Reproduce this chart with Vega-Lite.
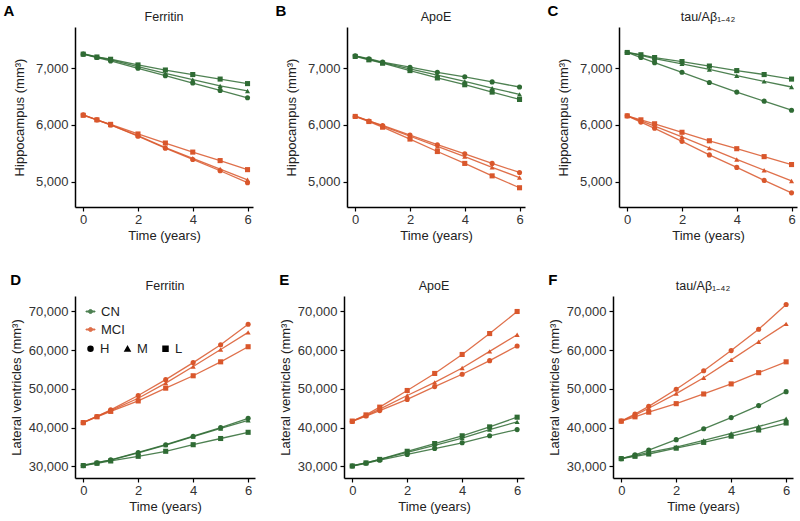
{
"$schema": "https://vega.github.io/schema/vega-lite/v6.json",
"padding": {"left": 3, "top": 3, "right": 3, "bottom": 3},
"background": "white",
"config": {
  "font": "Liberation Sans",
  "view": {"stroke": null},
  "axis": {"grid": false, "domainColor": "black", "domainWidth": 1.5, "tickColor": "black", "tickSize": 4, "tickWidth": 1.2, "labelColor": "#333", "labelFontSize": 13, "titleFontSize": 13, "titleFontWeight": "normal", "titleColor": "#222"},
  "axisX": {"labelPadding": 2, "titlePadding": 3},
  "axisY": {"labelPadding": 3},
  "legend": {"layout": {"top-left": {"direction": "vertical", "margin": 5}}}
},
"datasets": {"d": [
{"p":"A","g":"CN","l":"H","t":0,"v":7250},{"p":"A","g":"CN","l":"H","t":0.5,"v":7190},{"p":"A","g":"CN","l":"H","t":1,"v":7130},{"p":"A","g":"CN","l":"H","t":2,"v":7000},{"p":"A","g":"CN","l":"H","t":3,"v":6870},{"p":"A","g":"CN","l":"H","t":4,"v":6740},{"p":"A","g":"CN","l":"H","t":5,"v":6610},{"p":"A","g":"CN","l":"H","t":6,"v":6480},
{"p":"A","g":"CN","l":"M","t":0,"v":7260},{"p":"A","g":"CN","l":"M","t":0.5,"v":7200},{"p":"A","g":"CN","l":"M","t":1,"v":7150},{"p":"A","g":"CN","l":"M","t":2,"v":7030},{"p":"A","g":"CN","l":"M","t":3,"v":6910},{"p":"A","g":"CN","l":"M","t":4,"v":6800},{"p":"A","g":"CN","l":"M","t":5,"v":6690},{"p":"A","g":"CN","l":"M","t":6,"v":6600},
{"p":"A","g":"CN","l":"L","t":0,"v":7250},{"p":"A","g":"CN","l":"L","t":0.5,"v":7200},{"p":"A","g":"CN","l":"L","t":1,"v":7160},{"p":"A","g":"CN","l":"L","t":2,"v":7060},{"p":"A","g":"CN","l":"L","t":3,"v":6970},{"p":"A","g":"CN","l":"L","t":4,"v":6890},{"p":"A","g":"CN","l":"L","t":5,"v":6810},{"p":"A","g":"CN","l":"L","t":6,"v":6730},
{"p":"A","g":"MCI","l":"H","t":0,"v":6180},{"p":"A","g":"MCI","l":"H","t":0.5,"v":6090},{"p":"A","g":"MCI","l":"H","t":1,"v":6000},{"p":"A","g":"MCI","l":"H","t":2,"v":5800},{"p":"A","g":"MCI","l":"H","t":3,"v":5590},{"p":"A","g":"MCI","l":"H","t":4,"v":5390},{"p":"A","g":"MCI","l":"H","t":5,"v":5190},{"p":"A","g":"MCI","l":"H","t":6,"v":4980},
{"p":"A","g":"MCI","l":"M","t":0,"v":6180},{"p":"A","g":"MCI","l":"M","t":0.5,"v":6090},{"p":"A","g":"MCI","l":"M","t":1,"v":6000},{"p":"A","g":"MCI","l":"M","t":2,"v":5810},{"p":"A","g":"MCI","l":"M","t":3,"v":5600},{"p":"A","g":"MCI","l":"M","t":4,"v":5410},{"p":"A","g":"MCI","l":"M","t":5,"v":5220},{"p":"A","g":"MCI","l":"M","t":6,"v":5030},
{"p":"A","g":"MCI","l":"L","t":0,"v":6170},{"p":"A","g":"MCI","l":"L","t":0.5,"v":6090},{"p":"A","g":"MCI","l":"L","t":1,"v":6010},{"p":"A","g":"MCI","l":"L","t":2,"v":5840},{"p":"A","g":"MCI","l":"L","t":3,"v":5680},{"p":"A","g":"MCI","l":"L","t":4,"v":5520},{"p":"A","g":"MCI","l":"L","t":5,"v":5370},{"p":"A","g":"MCI","l":"L","t":6,"v":5210},
{"p":"B","g":"CN","l":"H","t":0,"v":7220},{"p":"B","g":"CN","l":"H","t":0.5,"v":7170},{"p":"B","g":"CN","l":"H","t":1,"v":7110},{"p":"B","g":"CN","l":"H","t":2,"v":7020},{"p":"B","g":"CN","l":"H","t":3,"v":6930},{"p":"B","g":"CN","l":"H","t":4,"v":6850},{"p":"B","g":"CN","l":"H","t":5,"v":6760},{"p":"B","g":"CN","l":"H","t":6,"v":6670},
{"p":"B","g":"CN","l":"M","t":0,"v":7220},{"p":"B","g":"CN","l":"M","t":0.5,"v":7160},{"p":"B","g":"CN","l":"M","t":1,"v":7100},{"p":"B","g":"CN","l":"M","t":2,"v":6990},{"p":"B","g":"CN","l":"M","t":3,"v":6880},{"p":"B","g":"CN","l":"M","t":4,"v":6770},{"p":"B","g":"CN","l":"M","t":5,"v":6650},{"p":"B","g":"CN","l":"M","t":6,"v":6540},
{"p":"B","g":"CN","l":"L","t":0,"v":7210},{"p":"B","g":"CN","l":"L","t":0.5,"v":7150},{"p":"B","g":"CN","l":"L","t":1,"v":7090},{"p":"B","g":"CN","l":"L","t":2,"v":6960},{"p":"B","g":"CN","l":"L","t":3,"v":6830},{"p":"B","g":"CN","l":"L","t":4,"v":6710},{"p":"B","g":"CN","l":"L","t":5,"v":6580},{"p":"B","g":"CN","l":"L","t":6,"v":6450},
{"p":"B","g":"MCI","l":"H","t":0,"v":6150},{"p":"B","g":"MCI","l":"H","t":0.5,"v":6070},{"p":"B","g":"MCI","l":"H","t":1,"v":5990},{"p":"B","g":"MCI","l":"H","t":2,"v":5820},{"p":"B","g":"MCI","l":"H","t":3,"v":5650},{"p":"B","g":"MCI","l":"H","t":4,"v":5490},{"p":"B","g":"MCI","l":"H","t":5,"v":5320},{"p":"B","g":"MCI","l":"H","t":6,"v":5160},
{"p":"B","g":"MCI","l":"M","t":0,"v":6160},{"p":"B","g":"MCI","l":"M","t":0.5,"v":6070},{"p":"B","g":"MCI","l":"M","t":1,"v":5980},{"p":"B","g":"MCI","l":"M","t":2,"v":5800},{"p":"B","g":"MCI","l":"M","t":3,"v":5620},{"p":"B","g":"MCI","l":"M","t":4,"v":5440},{"p":"B","g":"MCI","l":"M","t":5,"v":5250},{"p":"B","g":"MCI","l":"M","t":6,"v":5070},
{"p":"B","g":"MCI","l":"L","t":0,"v":6150},{"p":"B","g":"MCI","l":"L","t":0.5,"v":6060},{"p":"B","g":"MCI","l":"L","t":1,"v":5960},{"p":"B","g":"MCI","l":"L","t":2,"v":5750},{"p":"B","g":"MCI","l":"L","t":3,"v":5530},{"p":"B","g":"MCI","l":"L","t":4,"v":5320},{"p":"B","g":"MCI","l":"L","t":5,"v":5100},{"p":"B","g":"MCI","l":"L","t":6,"v":4890},
{"p":"C","g":"CN","l":"H","t":0,"v":7280},{"p":"C","g":"CN","l":"H","t":0.5,"v":7190},{"p":"C","g":"CN","l":"H","t":1,"v":7100},{"p":"C","g":"CN","l":"H","t":2,"v":6930},{"p":"C","g":"CN","l":"H","t":3,"v":6750},{"p":"C","g":"CN","l":"H","t":4,"v":6580},{"p":"C","g":"CN","l":"H","t":5,"v":6420},{"p":"C","g":"CN","l":"H","t":6,"v":6260},
{"p":"C","g":"CN","l":"M","t":0,"v":7280},{"p":"C","g":"CN","l":"M","t":0.5,"v":7230},{"p":"C","g":"CN","l":"M","t":1,"v":7170},{"p":"C","g":"CN","l":"M","t":2,"v":7080},{"p":"C","g":"CN","l":"M","t":3,"v":6980},{"p":"C","g":"CN","l":"M","t":4,"v":6870},{"p":"C","g":"CN","l":"M","t":5,"v":6770},{"p":"C","g":"CN","l":"M","t":6,"v":6670},
{"p":"C","g":"CN","l":"L","t":0,"v":7280},{"p":"C","g":"CN","l":"L","t":0.5,"v":7240},{"p":"C","g":"CN","l":"L","t":1,"v":7190},{"p":"C","g":"CN","l":"L","t":2,"v":7120},{"p":"C","g":"CN","l":"L","t":3,"v":7040},{"p":"C","g":"CN","l":"L","t":4,"v":6960},{"p":"C","g":"CN","l":"L","t":5,"v":6890},{"p":"C","g":"CN","l":"L","t":6,"v":6810},
{"p":"C","g":"MCI","l":"H","t":0,"v":6160},{"p":"C","g":"MCI","l":"H","t":0.5,"v":6050},{"p":"C","g":"MCI","l":"H","t":1,"v":5940},{"p":"C","g":"MCI","l":"H","t":2,"v":5710},{"p":"C","g":"MCI","l":"H","t":3,"v":5470},{"p":"C","g":"MCI","l":"H","t":4,"v":5250},{"p":"C","g":"MCI","l":"H","t":5,"v":5020},{"p":"C","g":"MCI","l":"H","t":6,"v":4800},
{"p":"C","g":"MCI","l":"M","t":0,"v":6160},{"p":"C","g":"MCI","l":"M","t":0.5,"v":6070},{"p":"C","g":"MCI","l":"M","t":1,"v":5980},{"p":"C","g":"MCI","l":"M","t":2,"v":5790},{"p":"C","g":"MCI","l":"M","t":3,"v":5590},{"p":"C","g":"MCI","l":"M","t":4,"v":5390},{"p":"C","g":"MCI","l":"M","t":5,"v":5200},{"p":"C","g":"MCI","l":"M","t":6,"v":5010},
{"p":"C","g":"MCI","l":"L","t":0,"v":6160},{"p":"C","g":"MCI","l":"L","t":0.5,"v":6090},{"p":"C","g":"MCI","l":"L","t":1,"v":6020},{"p":"C","g":"MCI","l":"L","t":2,"v":5870},{"p":"C","g":"MCI","l":"L","t":3,"v":5720},{"p":"C","g":"MCI","l":"L","t":4,"v":5580},{"p":"C","g":"MCI","l":"L","t":5,"v":5440},{"p":"C","g":"MCI","l":"L","t":6,"v":5300},
{"p":"D","g":"CN","l":"H","t":0,"v":30200},{"p":"D","g":"CN","l":"H","t":0.5,"v":30900},{"p":"D","g":"CN","l":"H","t":1,"v":31700},{"p":"D","g":"CN","l":"H","t":2,"v":33600},{"p":"D","g":"CN","l":"H","t":3,"v":35600},{"p":"D","g":"CN","l":"H","t":4,"v":37800},{"p":"D","g":"CN","l":"H","t":5,"v":40000},{"p":"D","g":"CN","l":"H","t":6,"v":42400},
{"p":"D","g":"CN","l":"M","t":0,"v":30300},{"p":"D","g":"CN","l":"M","t":0.5,"v":31000},{"p":"D","g":"CN","l":"M","t":1,"v":31600},{"p":"D","g":"CN","l":"M","t":2,"v":33500},{"p":"D","g":"CN","l":"M","t":3,"v":35500},{"p":"D","g":"CN","l":"M","t":4,"v":37700},{"p":"D","g":"CN","l":"M","t":5,"v":39800},{"p":"D","g":"CN","l":"M","t":6,"v":41900},
{"p":"D","g":"CN","l":"L","t":0,"v":30200},{"p":"D","g":"CN","l":"L","t":0.5,"v":30800},{"p":"D","g":"CN","l":"L","t":1,"v":31400},{"p":"D","g":"CN","l":"L","t":2,"v":32600},{"p":"D","g":"CN","l":"L","t":3,"v":33900},{"p":"D","g":"CN","l":"L","t":4,"v":35600},{"p":"D","g":"CN","l":"L","t":5,"v":37200},{"p":"D","g":"CN","l":"L","t":6,"v":38800},
{"p":"D","g":"MCI","l":"H","t":0,"v":41300},{"p":"D","g":"MCI","l":"H","t":0.5,"v":42900},{"p":"D","g":"MCI","l":"H","t":1,"v":44600},{"p":"D","g":"MCI","l":"H","t":2,"v":48300},{"p":"D","g":"MCI","l":"H","t":3,"v":52400},{"p":"D","g":"MCI","l":"H","t":4,"v":56800},{"p":"D","g":"MCI","l":"H","t":5,"v":61400},{"p":"D","g":"MCI","l":"H","t":6,"v":66700},
{"p":"D","g":"MCI","l":"M","t":0,"v":41400},{"p":"D","g":"MCI","l":"M","t":0.5,"v":42900},{"p":"D","g":"MCI","l":"M","t":1,"v":44400},{"p":"D","g":"MCI","l":"M","t":2,"v":47600},{"p":"D","g":"MCI","l":"M","t":3,"v":51500},{"p":"D","g":"MCI","l":"M","t":4,"v":55800},{"p":"D","g":"MCI","l":"M","t":5,"v":60200},{"p":"D","g":"MCI","l":"M","t":6,"v":64600},
{"p":"D","g":"MCI","l":"L","t":0,"v":41300},{"p":"D","g":"MCI","l":"L","t":0.5,"v":42800},{"p":"D","g":"MCI","l":"L","t":1,"v":44200},{"p":"D","g":"MCI","l":"L","t":2,"v":46900},{"p":"D","g":"MCI","l":"L","t":3,"v":50200},{"p":"D","g":"MCI","l":"L","t":4,"v":53400},{"p":"D","g":"MCI","l":"L","t":5,"v":57000},{"p":"D","g":"MCI","l":"L","t":6,"v":60900},
{"p":"E","g":"CN","l":"H","t":0,"v":30100},{"p":"E","g":"CN","l":"H","t":0.5,"v":30800},{"p":"E","g":"CN","l":"H","t":1,"v":31600},{"p":"E","g":"CN","l":"H","t":2,"v":33100},{"p":"E","g":"CN","l":"H","t":3,"v":34600},{"p":"E","g":"CN","l":"H","t":4,"v":36100},{"p":"E","g":"CN","l":"H","t":5,"v":37900},{"p":"E","g":"CN","l":"H","t":6,"v":39500},
{"p":"E","g":"CN","l":"M","t":0,"v":30200},{"p":"E","g":"CN","l":"M","t":0.5,"v":30900},{"p":"E","g":"CN","l":"M","t":1,"v":31800},{"p":"E","g":"CN","l":"M","t":2,"v":33600},{"p":"E","g":"CN","l":"M","t":3,"v":35400},{"p":"E","g":"CN","l":"M","t":4,"v":37300},{"p":"E","g":"CN","l":"M","t":5,"v":39500},{"p":"E","g":"CN","l":"M","t":6,"v":41500},
{"p":"E","g":"CN","l":"L","t":0,"v":30100},{"p":"E","g":"CN","l":"L","t":0.5,"v":30900},{"p":"E","g":"CN","l":"L","t":1,"v":31800},{"p":"E","g":"CN","l":"L","t":2,"v":33900},{"p":"E","g":"CN","l":"L","t":3,"v":35900},{"p":"E","g":"CN","l":"L","t":4,"v":37900},{"p":"E","g":"CN","l":"L","t":5,"v":40200},{"p":"E","g":"CN","l":"L","t":6,"v":42700},
{"p":"E","g":"MCI","l":"H","t":0,"v":41600},{"p":"E","g":"MCI","l":"H","t":0.5,"v":43000},{"p":"E","g":"MCI","l":"H","t":1,"v":44400},{"p":"E","g":"MCI","l":"H","t":2,"v":47300},{"p":"E","g":"MCI","l":"H","t":3,"v":50600},{"p":"E","g":"MCI","l":"H","t":4,"v":53800},{"p":"E","g":"MCI","l":"H","t":5,"v":57300},{"p":"E","g":"MCI","l":"H","t":6,"v":61100},
{"p":"E","g":"MCI","l":"M","t":0,"v":41700},{"p":"E","g":"MCI","l":"M","t":0.5,"v":43100},{"p":"E","g":"MCI","l":"M","t":1,"v":44800},{"p":"E","g":"MCI","l":"M","t":2,"v":48300},{"p":"E","g":"MCI","l":"M","t":3,"v":51700},{"p":"E","g":"MCI","l":"M","t":4,"v":55400},{"p":"E","g":"MCI","l":"M","t":5,"v":59700},{"p":"E","g":"MCI","l":"M","t":6,"v":64000},
{"p":"E","g":"MCI","l":"L","t":0,"v":41700},{"p":"E","g":"MCI","l":"L","t":0.5,"v":43300},{"p":"E","g":"MCI","l":"L","t":1,"v":45300},{"p":"E","g":"MCI","l":"L","t":2,"v":49600},{"p":"E","g":"MCI","l":"L","t":3,"v":54000},{"p":"E","g":"MCI","l":"L","t":4,"v":58900},{"p":"E","g":"MCI","l":"L","t":5,"v":64300},{"p":"E","g":"MCI","l":"L","t":6,"v":70000},
{"p":"F","g":"CN","l":"H","t":0,"v":32000},{"p":"F","g":"CN","l":"H","t":0.5,"v":33000},{"p":"F","g":"CN","l":"H","t":1,"v":34200},{"p":"F","g":"CN","l":"H","t":2,"v":36900},{"p":"F","g":"CN","l":"H","t":3,"v":39700},{"p":"F","g":"CN","l":"H","t":4,"v":42600},{"p":"F","g":"CN","l":"H","t":5,"v":45700},{"p":"F","g":"CN","l":"H","t":6,"v":49300},
{"p":"F","g":"CN","l":"M","t":0,"v":32000},{"p":"F","g":"CN","l":"M","t":0.5,"v":32800},{"p":"F","g":"CN","l":"M","t":1,"v":33600},{"p":"F","g":"CN","l":"M","t":2,"v":35000},{"p":"F","g":"CN","l":"M","t":3,"v":36700},{"p":"F","g":"CN","l":"M","t":4,"v":38500},{"p":"F","g":"CN","l":"M","t":5,"v":40300},{"p":"F","g":"CN","l":"M","t":6,"v":42300},
{"p":"F","g":"CN","l":"L","t":0,"v":32000},{"p":"F","g":"CN","l":"L","t":0.5,"v":32600},{"p":"F","g":"CN","l":"L","t":1,"v":33200},{"p":"F","g":"CN","l":"L","t":2,"v":34700},{"p":"F","g":"CN","l":"L","t":3,"v":36200},{"p":"F","g":"CN","l":"L","t":4,"v":37800},{"p":"F","g":"CN","l":"L","t":5,"v":39400},{"p":"F","g":"CN","l":"L","t":6,"v":41200},
{"p":"F","g":"MCI","l":"H","t":0,"v":41700},{"p":"F","g":"MCI","l":"H","t":0.5,"v":43500},{"p":"F","g":"MCI","l":"H","t":1,"v":45500},{"p":"F","g":"MCI","l":"H","t":2,"v":49900},{"p":"F","g":"MCI","l":"H","t":3,"v":54700},{"p":"F","g":"MCI","l":"H","t":4,"v":59900},{"p":"F","g":"MCI","l":"H","t":5,"v":65400},{"p":"F","g":"MCI","l":"H","t":6,"v":71800},
{"p":"F","g":"MCI","l":"M","t":0,"v":41700},{"p":"F","g":"MCI","l":"M","t":0.5,"v":43200},{"p":"F","g":"MCI","l":"M","t":1,"v":45000},{"p":"F","g":"MCI","l":"M","t":2,"v":48800},{"p":"F","g":"MCI","l":"M","t":3,"v":52900},{"p":"F","g":"MCI","l":"M","t":4,"v":57500},{"p":"F","g":"MCI","l":"M","t":5,"v":62200},{"p":"F","g":"MCI","l":"M","t":6,"v":66800},
{"p":"F","g":"MCI","l":"L","t":0,"v":41700},{"p":"F","g":"MCI","l":"L","t":0.5,"v":42800},{"p":"F","g":"MCI","l":"L","t":1,"v":44000},{"p":"F","g":"MCI","l":"L","t":2,"v":46200},{"p":"F","g":"MCI","l":"L","t":3,"v":48700},{"p":"F","g":"MCI","l":"L","t":4,"v":51300},{"p":"F","g":"MCI","l":"L","t":5,"v":54200},{"p":"F","g":"MCI","l":"L","t":6,"v":57000}
]},
"resolve": {"scale": {"color": "independent", "shape": "independent"}, "legend": {"color": "independent", "shape": "independent"}},
"spacing": 30,
"vconcat": [
 {"spacing": 22,
  "resolve": {"scale": {"color": "independent", "shape": "independent"}, "legend": {"color": "independent", "shape": "independent"}},
  "hconcat": [
   {"title": {"text": "A", "anchor": "start", "fontSize": 15, "fontWeight": "bold", "color": "black", "offset": -8, "dx": -10},
    "resolve": {"scale": {"color": "independent", "shape": "independent"}, "legend": {"color": "independent", "shape": "independent"}},
    "hconcat": [{
     "width": 178, "height": 180, "data": {"name": "d"},
     "transform": [{"filter": "datum.p === 'A'"}],
     "title": {"text": "Ferritin", "fontSize": 12.5, "fontWeight": "normal", "color": "#222", "offset": 4, "anchor": "middle"},
     "encoding": {
      "x": {"field": "t", "type": "quantitative", "scale": {"domain": [-0.3, 6.2], "nice": false, "zero": false}, "axis": {"values": [0, 2, 4, 6], "title": "Time (years)"}},
      "y": {"field": "v", "type": "quantitative", "scale": {"domain": [4550, 7730], "nice": false, "zero": false}, "axis": {"values": [5000, 6000, 7000], "format": ",d", "title": "Hippocampus (mm³)", "titlePadding": 9}},
      "color": {"field": "g", "type": "nominal", "scale": {"domain": ["CN", "MCI"], "range": ["#2f6b34", "#d9572c"]}, "legend": null},
      "detail": {"field": "l", "type": "nominal"}
     },
     "layer": [
      {"mark": {"type": "line", "strokeWidth": 1.3, "opacity": 0.85}},
      {"mark": {"type": "point", "filled": true, "size": 26, "opacity": 1, "color": "black"}, "encoding": {"shape": {"field": "l", "type": "nominal", "scale": {"domain": ["H", "M", "L"], "range": ["circle", "triangle-up", "square"]}, "legend": null}}}
     ]
    }]
   },
   {"title": {"text": "B", "anchor": "start", "fontSize": 15, "fontWeight": "bold", "color": "black", "offset": -8, "dx": -10},
    "resolve": {"scale": {"color": "independent", "shape": "independent"}, "legend": {"color": "independent", "shape": "independent"}},
    "hconcat": [{
     "width": 178, "height": 180, "data": {"name": "d"},
     "transform": [{"filter": "datum.p === 'B'"}],
     "title": {"text": "ApoE", "fontSize": 12.5, "fontWeight": "normal", "color": "#222", "offset": 4, "anchor": "middle"},
     "encoding": {
      "x": {"field": "t", "type": "quantitative", "scale": {"domain": [-0.3, 6.2], "nice": false, "zero": false}, "axis": {"values": [0, 2, 4, 6], "title": "Time (years)"}},
      "y": {"field": "v", "type": "quantitative", "scale": {"domain": [4550, 7730], "nice": false, "zero": false}, "axis": {"values": [5000, 6000, 7000], "format": ",d", "title": "Hippocampus (mm³)", "titlePadding": 9}},
      "color": {"field": "g", "type": "nominal", "scale": {"domain": ["CN", "MCI"], "range": ["#2f6b34", "#d9572c"]}, "legend": null},
      "detail": {"field": "l", "type": "nominal"}
     },
     "layer": [
      {"mark": {"type": "line", "strokeWidth": 1.3, "opacity": 0.85}},
      {"mark": {"type": "point", "filled": true, "size": 26, "opacity": 1, "color": "black"}, "encoding": {"shape": {"field": "l", "type": "nominal", "scale": {"domain": ["H", "M", "L"], "range": ["circle", "triangle-up", "square"]}, "legend": null}}}
     ]
    }]
   },
   {"title": {"text": "C", "anchor": "start", "fontSize": 15, "fontWeight": "bold", "color": "black", "offset": -8, "dx": -10},
    "resolve": {"scale": {"color": "independent", "shape": "independent"}, "legend": {"color": "independent", "shape": "independent"}},
    "hconcat": [{
     "width": 178, "height": 180, "data": {"name": "d"},
     "transform": [{"filter": "datum.p === 'C'"}],
     "title": {"text": "tau/Aβ₁₋₄₂", "fontSize": 12.5, "fontWeight": "normal", "color": "#222", "offset": 4, "anchor": "middle"},
     "encoding": {
      "x": {"field": "t", "type": "quantitative", "scale": {"domain": [-0.3, 6.2], "nice": false, "zero": false}, "axis": {"values": [0, 2, 4, 6], "title": "Time (years)"}},
      "y": {"field": "v", "type": "quantitative", "scale": {"domain": [4550, 7730], "nice": false, "zero": false}, "axis": {"values": [5000, 6000, 7000], "format": ",d", "title": "Hippocampus (mm³)", "titlePadding": 9}},
      "color": {"field": "g", "type": "nominal", "scale": {"domain": ["CN", "MCI"], "range": ["#2f6b34", "#d9572c"]}, "legend": null},
      "detail": {"field": "l", "type": "nominal"}
     },
     "layer": [
      {"mark": {"type": "line", "strokeWidth": 1.3, "opacity": 0.85}},
      {"mark": {"type": "point", "filled": true, "size": 26, "opacity": 1, "color": "black"}, "encoding": {"shape": {"field": "l", "type": "nominal", "scale": {"domain": ["H", "M", "L"], "range": ["circle", "triangle-up", "square"]}, "legend": null}}}
     ]
    }]
   }
  ]
 },
 {"spacing": 24,
  "resolve": {"scale": {"color": "independent", "shape": "independent"}, "legend": {"color": "independent", "shape": "independent"}},
  "hconcat": [
   {"title": {"text": "D", "anchor": "start", "fontSize": 15, "fontWeight": "bold", "color": "black", "offset": -8, "dx": 0},
    "resolve": {"scale": {"color": "independent", "shape": "independent"}, "legend": {"color": "independent", "shape": "independent"}},
    "hconcat": [{
     "width": 180, "height": 182, "data": {"name": "d"},
     "transform": [{"filter": "datum.p === 'D'"}],
     "title": {"text": "Ferritin", "fontSize": 12.5, "fontWeight": "normal", "color": "#222", "offset": 4, "anchor": "middle"},
     "encoding": {
      "x": {"field": "t", "type": "quantitative", "scale": {"domain": [-0.3, 6.25], "nice": false, "zero": false}, "axis": {"values": [0, 2, 4, 6], "title": "Time (years)"}},
      "y": {"field": "v", "type": "quantitative", "scale": {"domain": [27000, 74000], "nice": false, "zero": false}, "axis": {"values": [30000, 40000, 50000, 60000, 70000], "format": ",d", "title": "Lateral ventricles (mm³)", "titlePadding": 5}},
      "color": {"field": "g", "type": "nominal", "scale": {"domain": ["CN", "MCI"], "range": ["#2f6b34", "#d9572c"]},
          "legend": {"orient": "top-left", "title": null, "offset": 9, "padding": 0, "symbolType": "M-1,-0.1H1V0.1H-1Z M0.45,0A0.45,0.45,0,1,1,-0.45,0A0.45,0.45,0,1,1,0.45,0Z", "symbolSize": 81, "symbolStrokeWidth": 1, "labelFontSize": 13, "labelColor": "#222", "labelOffset": 4, "rowPadding": 4}},
      "detail": {"field": "l", "type": "nominal"}
     },
     "layer": [
      {"mark": {"type": "line", "strokeWidth": 1.3, "opacity": 0.85}},
      {"mark": {"type": "point", "filled": true, "size": 26, "opacity": 1, "color": "black"},
       "encoding": {
        "shape": {"field": "l", "type": "nominal", "scale": {"domain": ["H", "M", "L"], "range": ["circle", "triangle-up", "square"]},
          "legend": {"orient": "top-left", "direction": "horizontal", "title": null, "offset": 9, "padding": 0, "symbolSize": 25, "symbolFillColor": "black", "symbolStrokeColor": "black", "labelFontSize": 13, "labelColor": "#222", "labelOffset": 3, "columnPadding": 11}}
       }}
     ]
    }]
   },
   {"title": {"text": "E", "anchor": "start", "fontSize": 15, "fontWeight": "bold", "color": "black", "offset": -8, "dx": 0},
    "resolve": {"scale": {"color": "independent", "shape": "independent"}, "legend": {"color": "independent", "shape": "independent"}},
    "hconcat": [{
     "width": 180, "height": 182, "data": {"name": "d"},
     "transform": [{"filter": "datum.p === 'E'"}],
     "title": {"text": "ApoE", "fontSize": 12.5, "fontWeight": "normal", "color": "#222", "offset": 4, "anchor": "middle"},
     "encoding": {
      "x": {"field": "t", "type": "quantitative", "scale": {"domain": [-0.3, 6.25], "nice": false, "zero": false}, "axis": {"values": [0, 2, 4, 6], "title": "Time (years)"}},
      "y": {"field": "v", "type": "quantitative", "scale": {"domain": [27000, 74000], "nice": false, "zero": false}, "axis": {"values": [30000, 40000, 50000, 60000, 70000], "format": ",d", "title": "Lateral ventricles (mm³)", "titlePadding": 5}},
      "color": {"field": "g", "type": "nominal", "scale": {"domain": ["CN", "MCI"], "range": ["#2f6b34", "#d9572c"]}, "legend": null},
      "detail": {"field": "l", "type": "nominal"}
     },
     "layer": [
      {"mark": {"type": "line", "strokeWidth": 1.3, "opacity": 0.85}},
      {"mark": {"type": "point", "filled": true, "size": 26, "opacity": 1, "color": "black"}, "encoding": {"shape": {"field": "l", "type": "nominal", "scale": {"domain": ["H", "M", "L"], "range": ["circle", "triangle-up", "square"]}, "legend": null}}}
     ]
    }]
   },
   {"title": {"text": "F", "anchor": "start", "fontSize": 15, "fontWeight": "bold", "color": "black", "offset": -8, "dx": 0},
    "resolve": {"scale": {"color": "independent", "shape": "independent"}, "legend": {"color": "independent", "shape": "independent"}},
    "hconcat": [{
     "width": 180, "height": 182, "data": {"name": "d"},
     "transform": [{"filter": "datum.p === 'F'"}],
     "title": {"text": "tau/Aβ₁₋₄₂", "fontSize": 12.5, "fontWeight": "normal", "color": "#222", "offset": 4, "anchor": "middle"},
     "encoding": {
      "x": {"field": "t", "type": "quantitative", "scale": {"domain": [-0.3, 6.25], "nice": false, "zero": false}, "axis": {"values": [0, 2, 4, 6], "title": "Time (years)"}},
      "y": {"field": "v", "type": "quantitative", "scale": {"domain": [27000, 74000], "nice": false, "zero": false}, "axis": {"values": [30000, 40000, 50000, 60000, 70000], "format": ",d", "title": "Lateral ventricles (mm³)", "titlePadding": 5}},
      "color": {"field": "g", "type": "nominal", "scale": {"domain": ["CN", "MCI"], "range": ["#2f6b34", "#d9572c"]}, "legend": null},
      "detail": {"field": "l", "type": "nominal"}
     },
     "layer": [
      {"mark": {"type": "line", "strokeWidth": 1.3, "opacity": 0.85}},
      {"mark": {"type": "point", "filled": true, "size": 26, "opacity": 1, "color": "black"}, "encoding": {"shape": {"field": "l", "type": "nominal", "scale": {"domain": ["H", "M", "L"], "range": ["circle", "triangle-up", "square"]}, "legend": null}}}
     ]
    }]
   }
  ]
 }
]
}
